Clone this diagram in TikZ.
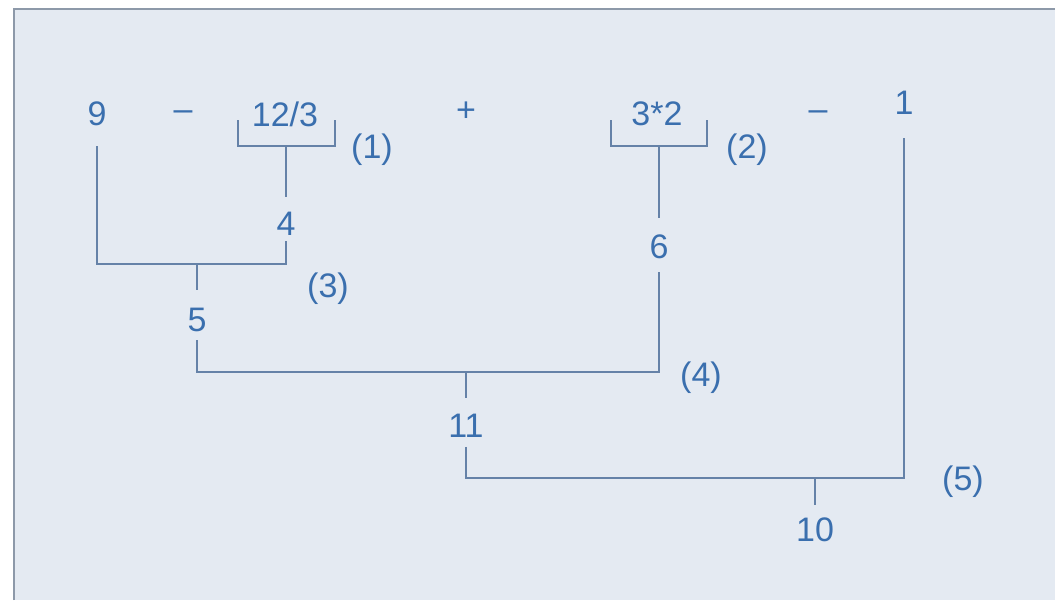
\documentclass[tikz,border=0pt]{standalone}
\usepackage{fontspec}
\setmainfont{Liberation Sans}
\definecolor{bgc}{HTML}{E4EAF2}
\definecolor{framec}{HTML}{8D99A9}
\definecolor{txtc}{HTML}{3A6FAE}
\definecolor{linec}{HTML}{6582A8}
\begin{document}
\begin{tikzpicture}[x=1pt,y=-1pt,
  lbl/.style={text=txtc,inner sep=0pt,font=\fontsize{34}{40}\selectfont},
  conn/.style={draw=linec,line width=2pt}]
\useasboundingbox (0,0) rectangle (1055,606);
\fill[white] (0,0) rectangle (1055,606);
\fill[bgc] (14,9) rectangle (1055,600);
\draw[framec,line width=2.5pt] (14,600) -- (14,9) -- (1055,9);
% top row
\node[lbl] (n9) at (97,114) {9};
\node[lbl] (m1) at (183,116) {–};
\node[lbl] (e1) at (285,114) {12/3};
\node[lbl] (p1) at (372,150) {(1)};
\node[lbl] (plus) at (466,112) {+};
\node[lbl] (e2) at (657,114) {3*2};
\node[lbl] (p2) at (747,150) {(2)};
\node[lbl] (m2) at (818,116) {–};
\node[lbl] (n1) at (904,103) {1};
% results
\node[lbl] (n4) at (286,224) {4};
\node[lbl] (n6) at (659,247) {6};
\node[lbl] (p3) at (328,289) {(3)};
\node[lbl] (n5) at (197,320) {5};
\node[lbl] (p4) at (701,378) {(4)};
\node[lbl] (n11) at (466,426) {11};
\node[lbl] (p5) at (963,482) {(5)};
\node[lbl] (n10) at (815,530) {10};
% junctions
\coordinate (b1l) at (238,120);
\coordinate (b1r) at (335,120);
\coordinate (j1) at (286,146);
\coordinate (b2l) at (611,120);
\coordinate (b2r) at (707,120);
\coordinate (j2) at (659,146);
\coordinate (j3) at (197,264);
\coordinate (j4) at (466,372);
\coordinate (j5) at (815,478);
% brackets
\draw[conn] (b1l) |- (j1) -| (b1r);
\draw[conn] (j1) -- ([yshift=15pt]n4.north);
\draw[conn] (b2l) |- (j2) -| (b2r);
\draw[conn] (j2) -- ([yshift=17pt]n6.north);
% step 3
\draw[conn] ([yshift=-20pt]n9.south) |- (j3) -| ([yshift=-5pt]n4.south);
\draw[conn] (j3) -- ([yshift=18pt]n5.north);
% step 4
\draw[conn] ([yshift=-8pt]n5.south) |- (j4) -| ([yshift=-13pt]n6.south);
\draw[conn] (j4) -- ([yshift=16pt]n11.north);
% step 5
\draw[conn] ([yshift=-9pt]n11.south) |- (j5) -| ([yshift=-23pt]n1.south);
\draw[conn] (j5) -- ([yshift=13pt]n10.north);
\end{tikzpicture}
\end{document}
